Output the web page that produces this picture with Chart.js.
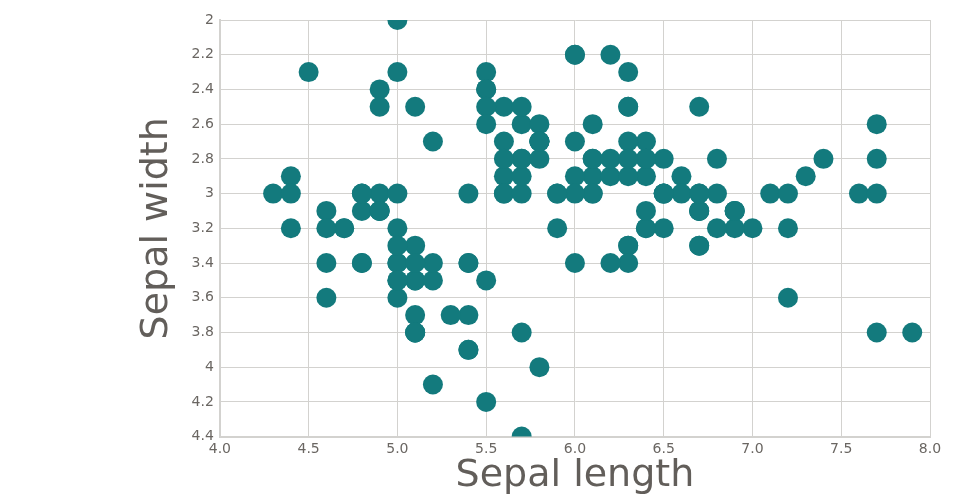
<!DOCTYPE html>
<html>
<head>
    <title>Iris sepal scatter</title>
    <script src="https://cdn.jsdelivr.net/npm/chart.js"></script>
    <style>
        body { margin: 0; background: #fff; }
        #wrap { width: 960px; height: 500px; }
    </style>
</head>
<body>
    <div id="wrap"><canvas id="myChart"></canvas></div>
    <script>
        // iris data (sepal length / sepal width)
        const sepalLength = [
            5.1, 4.9, 4.7, 4.6, 5.0, 5.4, 4.6, 5.0, 4.4, 4.9, 5.4, 4.8, 4.8, 4.3, 5.8, 5.7, 5.4, 5.1, 5.7, 5.1,
            5.4, 5.1, 4.6, 5.1, 4.8, 5.0, 5.0, 5.2, 5.2, 4.7, 4.8, 5.4, 5.2, 5.5, 4.9, 5.0, 5.5, 4.9, 4.4, 5.1,
            5.0, 4.5, 4.4, 5.0, 5.1, 4.8, 5.1, 4.6, 5.3, 5.0,
            7.0, 6.4, 6.9, 5.5, 6.5, 5.7, 6.3, 4.9, 6.6, 5.2, 5.0, 5.9, 6.0, 6.1, 5.6, 6.7, 5.6, 5.8, 6.2, 5.6,
            5.9, 6.1, 6.3, 6.1, 6.4, 6.6, 6.8, 6.7, 6.0, 5.7, 5.5, 5.5, 5.8, 6.0, 5.4, 6.0, 6.7, 6.3, 5.6, 5.5,
            5.5, 6.1, 5.8, 5.0, 5.6, 5.7, 5.7, 6.2, 5.1, 5.7,
            6.3, 5.8, 7.1, 6.3, 6.5, 7.6, 4.9, 7.3, 6.7, 7.2, 6.5, 6.4, 6.8, 5.7, 5.8, 6.4, 6.5, 7.7, 7.7, 6.0,
            6.9, 5.6, 7.7, 6.3, 6.7, 7.2, 6.2, 6.1, 6.4, 7.2, 7.4, 7.9, 6.4, 6.3, 6.1, 7.7, 6.3, 6.4, 6.0, 6.9,
            6.7, 6.9, 5.8, 6.8, 6.7, 6.7, 6.3, 6.5, 6.2, 5.9
        ];
        const sepalWidth = [
            3.5, 3.0, 3.2, 3.1, 3.6, 3.9, 3.4, 3.4, 2.9, 3.1, 3.7, 3.4, 3.0, 3.0, 4.0, 4.4, 3.9, 3.5, 3.8, 3.8,
            3.4, 3.7, 3.6, 3.3, 3.4, 3.0, 3.4, 3.5, 3.4, 3.2, 3.1, 3.4, 4.1, 4.2, 3.1, 3.2, 3.5, 3.1, 3.0, 3.4,
            3.5, 2.3, 3.2, 3.5, 3.8, 3.0, 3.8, 3.2, 3.7, 3.3,
            3.2, 3.2, 3.1, 2.3, 2.8, 2.8, 3.3, 2.4, 2.9, 2.7, 2.0, 3.0, 2.2, 2.9, 2.9, 3.1, 3.0, 2.7, 2.2, 2.5,
            3.2, 2.8, 2.5, 2.8, 2.9, 3.0, 2.8, 3.0, 2.9, 2.6, 2.4, 2.4, 2.7, 2.7, 3.0, 3.4, 3.1, 2.3, 3.0, 2.5,
            2.6, 3.0, 2.6, 2.3, 2.7, 3.0, 2.9, 2.9, 2.5, 2.8,
            3.3, 2.7, 3.0, 2.9, 3.0, 3.0, 2.5, 2.9, 2.5, 3.6, 3.2, 2.7, 3.0, 2.5, 2.8, 3.2, 3.0, 3.8, 2.6, 2.2,
            3.2, 2.8, 2.8, 2.7, 3.3, 3.2, 2.8, 3.0, 2.8, 3.0, 2.8, 3.8, 2.8, 2.8, 2.6, 3.0, 3.4, 3.1, 3.0, 3.1,
            3.1, 3.1, 2.7, 3.2, 3.3, 3.0, 2.5, 3.0, 3.4, 3.0
        ];

        const points = sepalLength.map((x, i) => ({ x: x, y: sepalWidth[i] }));

        const textColor = '#625e5a';
        const tickColor = '#6a6662';
        const gridColor = '#d3d2cf';
        const fontFamily = "'DejaVu Sans', sans-serif";

        const ctx = document.getElementById('myChart').getContext('2d');
        const myChart = new Chart(ctx, {
            type: 'scatter',
            data: {
                datasets: [{
                    label: 'Sepal',
                    data: points,
                    backgroundColor: '#137a7d',
                    borderWidth: 0,
                    pointRadius: 10,
                    pointHoverRadius: 10
                }]
            },
            options: {
                responsive: true,
                maintainAspectRatio: false,
                animation: false,
                layout: { padding: { left: 134, right: 30, top: 20, bottom: -7 } },
                plugins: {
                    legend: { display: false },
                    tooltip: { enabled: false }
                },
                scales: {
                    x: {
                        type: 'linear',
                        min: 4,
                        max: 8,
                        ticks: {
                            stepSize: 0.5,
                            color: tickColor,
                            padding: 4,
                            font: { family: fontFamily, size: 14 },
                            callback: v => v.toFixed(1)
                        },
                        grid: { color: gridColor, drawTicks: false },
                        border: { color: gridColor, width: 2 },
                        title: {
                            display: true,
                            text: 'Sepal length',
                            color: textColor,
                            padding: { top: -8, bottom: 8 },
                            font: { family: fontFamily, size: 38 }
                        }
                    },
                    y: {
                        type: 'linear',
                        reverse: true,
                        min: 2,
                        max: 4.4,
                        ticks: {
                            stepSize: 0.2,
                            color: tickColor,
                            padding: 6,
                            font: { family: fontFamily, size: 14 },
                            callback: v => String(+v.toFixed(1))
                        },
                        grid: { color: gridColor, drawTicks: false },
                        border: { color: gridColor, width: 2 },
                        title: {
                            display: true,
                            text: 'Sepal width',
                            color: textColor,
                            padding: { top: 0, bottom: 6 },
                            font: { family: fontFamily, size: 38 }
                        }
                    }
                }
            }
        });
    </script>
</body>
</html>
